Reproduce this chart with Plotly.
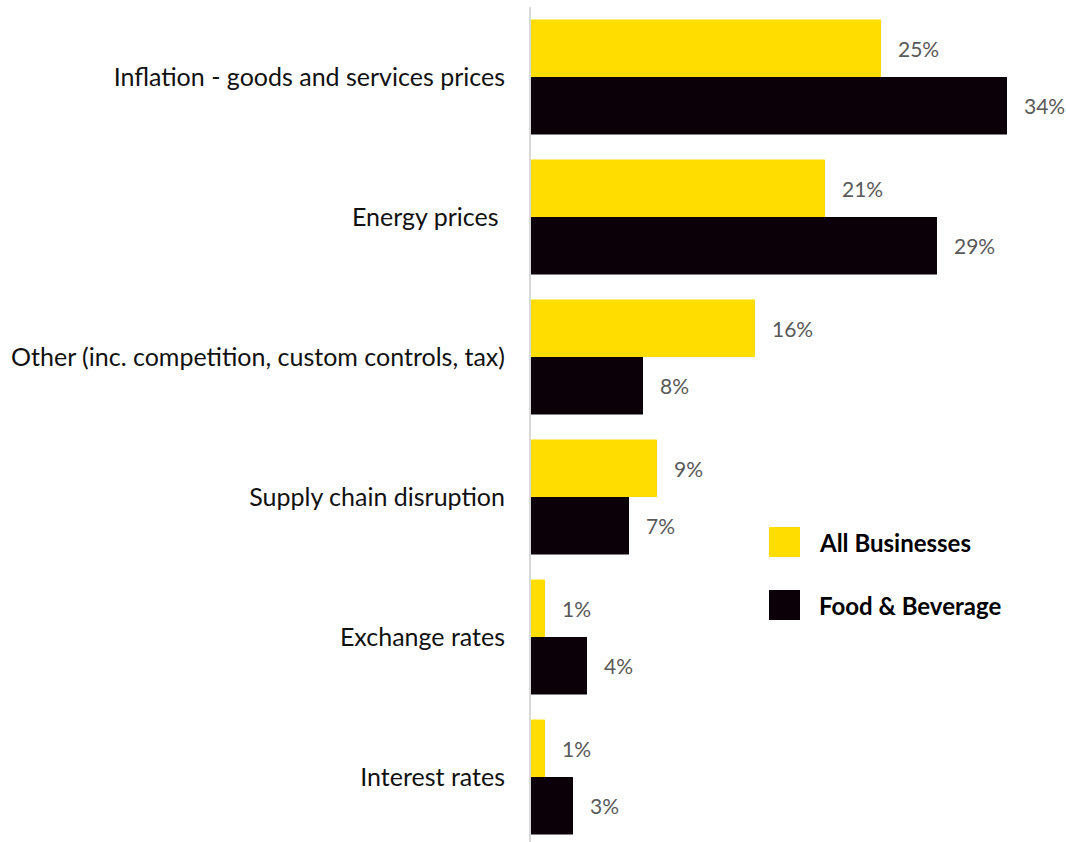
import plotly.graph_objects as go

# Categories (top to bottom) and the share of respondents per series (%)
categories = [
    "Inflation - goods and services prices",
    "Energy prices ",
    "Other (inc. competition, custom controls, tax)",
    "Supply chain disruption",
    "Exchange rates",
    "Interest rates",
]
series_names = ["All Businesses", "Food & Beverage"]
all_businesses = [25, 21, 16, 9, 1, 1]
food_beverage = [34, 29, 8, 7, 4, 3]

colors = ["#FFDD00", "#0C0008"]
FONT = "Lato"

W, H = 1066, 842
L, R, T, B = 531, 0, 7, 0
plot_w, plot_h = W - L - R, H - T - B
px_per_pct = 14.0
px_per_cat = 140.0

fig = go.Figure()
for name, vals, col in zip(series_names, [all_businesses, food_beverage], colors):
    fig.add_trace(go.Bar(
        y=categories, x=vals, name=name, orientation="h",
        marker=dict(color=col, line=dict(width=0)),
        showlegend=False,
    ))

# Value labels beside each bar
bar_h = px_per_cat * (1 - 0.179) / 2
for i, vals in enumerate([all_businesses, food_beverage]):
    shift = bar_h / 2 if i == 0 else -bar_h / 2
    for cat, v in zip(categories, vals):
        fig.add_annotation(
            x=v, y=cat, text=f"{v}%", showarrow=False,
            xanchor="left", yanchor="middle", xshift=15, yshift=shift,
            font=dict(family=FONT, size=21, color="#595959"),
        )

# Hand-drawn legend: swatches plus bold labels
def px_x(p):
    return (p - L) / plot_w

def px_y(p):
    return 1 - (p - T) / plot_h

legend_rows = [(527, 557), (590, 620)]
for name, col, (y0, y1) in zip(series_names, colors, legend_rows):
    fig.add_shape(type="rect", xref="paper", yref="paper",
                  x0=px_x(769), x1=px_x(800), y0=px_y(y1), y1=px_y(y0),
                  fillcolor=col, line=dict(width=0))
    fig.add_annotation(xref="paper", yref="paper", x=px_x(817), y=px_y((y0 + y1) / 2),
                       text=f"<b>{name}</b>", showarrow=False,
                       xanchor="left", yanchor="middle",
                       font=dict(family=FONT, size=24, color="#000000"))

fig.update_layout(
    width=W, height=H,
    margin=dict(l=L, r=R, t=T, b=B, pad=0),
    paper_bgcolor="white", plot_bgcolor="white",
    barmode="group", bargap=0.179, bargroupgap=0,
    font=dict(family=FONT, size=25, color="#111111"),
    xaxis=dict(range=[0, plot_w / px_per_pct], visible=False, fixedrange=True),
    yaxis=dict(
        categoryorder="array", categoryarray=categories,
        range=[-0.5 + plot_h / px_per_cat, -0.5],
        showline=True, linecolor="#D9D9D9", linewidth=2,
        showgrid=False, zeroline=False, ticks="",
        ticklabelstandoff=19,
        tickfont=dict(family=FONT, size=25, color="#111111"),
    ),
)

fig.write_html("out.html")
